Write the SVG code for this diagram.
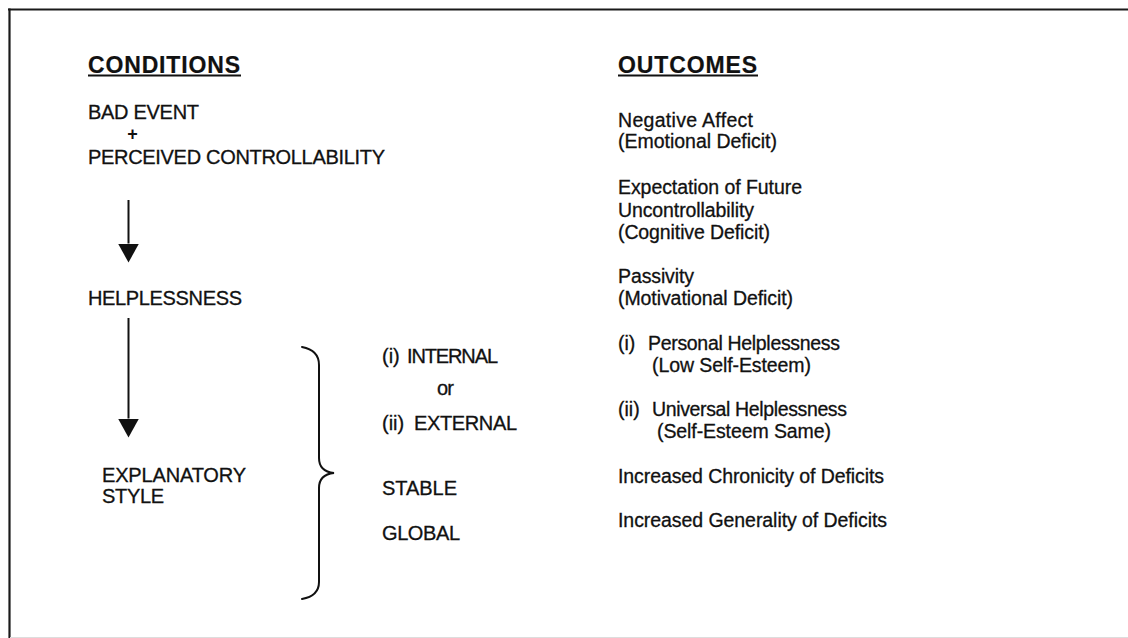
<svg xmlns="http://www.w3.org/2000/svg" width="1128" height="638" viewBox="0 0 1128 638">
  <style>
    text { font-family: "Liberation Sans", Arial, Helvetica, sans-serif; fill: #111; stroke: #111; stroke-width: 0.3; }
    .head { font-size: 23px; font-weight: bold; stroke-width: 0.2; }
    .uline { stroke: #111; stroke-width: 1.8; }
    .l { font-size: 20px; }
    .r { font-size: 19.5px; }
    .plus { font-size: 18px; font-weight: bold; stroke-width: 0; }
    .frame { stroke: #1a1a1a; stroke-width: 2.2; fill: none; }
    .conn { stroke: #111; stroke-width: 2; fill: none; }
    .brace { stroke: #111; stroke-width: 2; fill: none; stroke-linecap: round; }
  </style>
  <defs>
    <marker id="arrow" markerUnits="userSpaceOnUse" markerWidth="20" markerHeight="22" refX="0" refY="10.5" orient="auto">
      <path d="M0,0 L19,10.5 L0,21 Z" fill="#111"/>
    </marker>
  </defs>
  <rect width="1128" height="638" fill="#fff"/>

  <g id="frame">
    <line class="frame" x1="8" y1="9.5" x2="1128" y2="9.5"/>
    <line class="frame" x1="9.5" y1="8.5" x2="9.5" y2="638"/>
    <line x1="10" y1="637.5" x2="1128" y2="637.5" stroke="#ddd" stroke-width="1"/>
  </g>

  <g id="conditions-header">
    <text class="head" x="88" y="73" textLength="152">CONDITIONS</text>
    <line class="uline" x1="88" y1="75.5" x2="241" y2="75.5"/>
  </g>
  <g id="bad-event">
    <text class="l" x="88" y="119" textLength="111">BAD EVENT</text>
    <text class="plus" x="132.5" y="140" text-anchor="middle">+</text>
    <text class="l" x="88" y="164" textLength="297">PERCEIVED CONTROLLABILITY</text>
  </g>
  <g id="helplessness">
    <text class="l" x="88" y="305" textLength="154">HELPLESSNESS</text>
  </g>
  <g id="explanatory-style">
    <text class="l" x="102" y="482" textLength="144">EXPLANATORY</text>
    <text class="l" x="102" y="503" textLength="62">STYLE</text>
  </g>

  <g id="connectors">
    <line class="conn" x1="128.5" y1="200" x2="128.5" y2="243.5" marker-end="url(#arrow)"/>
    <line class="conn" x1="128.5" y1="318" x2="128.5" y2="418.5" marker-end="url(#arrow)"/>
  </g>

  <g id="brace">
    <path class="brace" d="M302,347 C313,349 319,354 319,365 L319,458 C319,467 324,472 334,473 C324,474 319,479 319,488 L319,582 C319,592 313,597 302,599"/>
  </g>

  <g id="attributions">
    <text class="l" x="382" y="363">(i)</text>
    <text class="l" x="407" y="363" textLength="91">INTERNAL</text>
    <text class="l" x="437" y="395" textLength="17">or</text>
    <text class="l" x="382" y="430">(ii)</text>
    <text class="l" x="414" y="430" textLength="103">EXTERNAL</text>
    <text class="l" x="382" y="495" textLength="75">STABLE</text>
    <text class="l" x="382" y="540" textLength="78">GLOBAL</text>
  </g>

  <g id="outcomes-header">
    <text class="head" x="618" y="73" textLength="139">OUTCOMES</text>
    <line class="uline" x1="618" y1="75.5" x2="758" y2="75.5"/>
  </g>
  <g id="outcome-emotional">
    <text class="r" x="618" y="127" textLength="135">Negative Affect</text>
    <text class="r" x="618" y="148" textLength="159">(Emotional Deficit)</text>
  </g>
  <g id="outcome-cognitive">
    <text class="r" x="618" y="194" textLength="184">Expectation of Future</text>
    <text class="r" x="618" y="217" textLength="136">Uncontrollability</text>
    <text class="r" x="618" y="239" textLength="152">(Cognitive Deficit)</text>
  </g>
  <g id="outcome-motivational">
    <text class="r" x="618" y="283" textLength="76">Passivity</text>
    <text class="r" x="618" y="305" textLength="175">(Motivational Deficit)</text>
  </g>
  <g id="outcome-personal">
    <text class="r" x="618" y="350">(i)</text>
    <text class="r" x="648" y="350" textLength="192">Personal Helplessness</text>
    <text class="r" x="652" y="372" textLength="159">(Low Self-Esteem)</text>
  </g>
  <g id="outcome-universal">
    <text class="r" x="618" y="416">(ii)</text>
    <text class="r" x="652" y="416" textLength="195">Universal Helplessness</text>
    <text class="r" x="657" y="438" textLength="174">(Self-Esteem Same)</text>
  </g>
  <g id="outcome-chronicity">
    <text class="r" x="618" y="483" textLength="266">Increased Chronicity of Deficits</text>
  </g>
  <g id="outcome-generality">
    <text class="r" x="618" y="527" textLength="269">Increased Generality of Deficits</text>
  </g>
</svg>
